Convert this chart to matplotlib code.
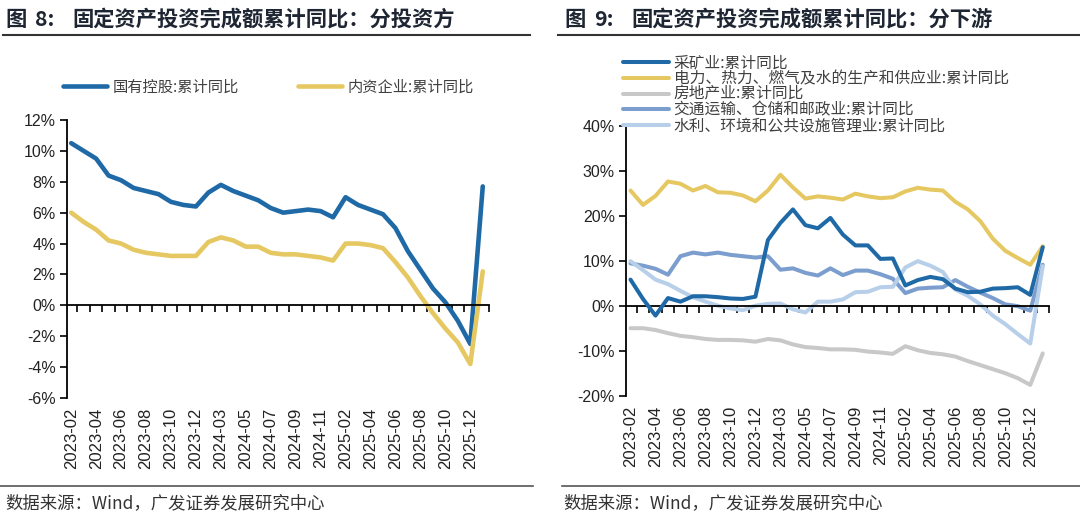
import numpy as np
import matplotlib
matplotlib.use('Agg')
import matplotlib.pyplot as plt
from matplotlib.lines import Line2D

# x categories (no January data)
dates = ['2023-02', '2023-03', '2023-04', '2023-05', '2023-06', '2023-07',
         '2023-08', '2023-09', '2023-10', '2023-11', '2023-12',
         '2024-02', '2024-03', '2024-04', '2024-05', '2024-06', '2024-07',
         '2024-08', '2024-09', '2024-10', '2024-11', '2024-12',
         '2025-02', '2025-03', '2025-04', '2025-05', '2025-06', '2025-07',
         '2025-08', '2025-09', '2025-10', '2025-11', '2025-12', '2026-02']

# 图8: 分投资方
soe = [10.5, 10.0, 9.5, 8.4, 8.1, 7.6, 7.4, 7.2, 6.7, 6.5, 6.4,
       7.3, 7.8, 7.4, 7.1, 6.8, 6.3, 6.0, 6.1, 6.2, 6.1, 5.7,
       7.0, 6.5, 6.2, 5.9, 5.0, 3.5, 2.3, 1.1, 0.2, -1.0, -2.5, 7.7]
domestic = [6.0, 5.4, 4.9, 4.2, 4.0, 3.6, 3.4, 3.3, 3.2, 3.2, 3.2,
            4.1, 4.4, 4.2, 3.8, 3.8, 3.4, 3.3, 3.3, 3.2, 3.1, 2.9,
            4.0, 4.0, 3.9, 3.7, 2.8, 1.8, 0.6, -0.5, -1.5, -2.4, -3.8, 2.2]

# 图9: 分下游
mining = [5.8, 1.5, -2.2, 1.7, 0.9, 2.1, 2.1, 1.9, 1.6, 1.5, 2.0,
          14.6, 18.4, 21.4, 17.9, 17.2, 19.5, 15.8, 13.4, 13.4, 10.4, 10.5,
          4.5, 5.7, 6.4, 5.9, 3.8, 3.0, 3.1, 3.8, 3.9, 4.1, 2.4, 13.0]
power = [25.6, 22.4, 24.4, 27.6, 27.1, 25.6, 26.6, 25.2, 25.1, 24.5, 23.2,
         25.6, 29.1, 26.3, 23.8, 24.3, 24.0, 23.6, 24.9, 24.3, 23.9, 24.1,
         25.4, 26.2, 25.8, 25.6, 23.1, 21.4, 18.8, 14.9, 12.2, 10.6, 9.1, 13.2]
realestate = [-5.0, -5.0, -5.4, -6.1, -6.7, -7.0, -7.4, -7.6, -7.6, -7.7, -8.0,
              -7.4, -7.7, -8.6, -9.2, -9.4, -9.7, -9.7, -9.8, -10.2, -10.4, -10.7,
              -9.0, -9.9, -10.5, -10.8, -11.3, -12.3, -13.2, -14.1, -15.0, -16.1, -17.6, -10.6]
transport = [9.4, 8.9, 8.2, 6.9, 11.0, 11.8, 11.4, 11.8, 11.3, 11.0, 10.7,
             11.0, 8.0, 8.3, 7.3, 6.7, 8.3, 6.8, 7.8, 7.8, 7.0, 6.0,
             2.8, 3.8, 4.0, 4.1, 5.7, 4.2, 2.9, 1.7, 0.3, -0.1, -1.1, 9.1]
water = [9.9, 7.9, 5.8, 4.8, 3.3, 1.9, 0.9, 0.0, -0.6, -1.0, 0.0,
         0.4, 0.5, -0.8, -1.5, 0.9, 0.9, 1.4, 3.0, 3.1, 4.1, 4.2,
         8.5, 9.9, 8.9, 7.5, 3.6, 2.2, 0.3, -2.2, -4.1, -6.3, -8.4, 8.8]

left_names = ['国有控股:累计同比', '内资企业:累计同比']
right_names = ['采矿业:累计同比', '电力、热力、燃气及水的生产和供应业:累计同比',
               '房地产业:累计同比', '交通运输、仓储和邮政业:累计同比',
               '水利、环境和公共设施管理业:累计同比']

c_blue = '#1F6AA6'
c_yel = '#E6C862'
c_gray = '#C8C8C8'
c_mid = '#7B9ECE'
c_light = '#B8CFEA'

plt.rcParams['font.family'] = ['Liberation Sans', 'Noto Sans CJK SC']
plt.rcParams['axes.unicode_minus'] = False
cjk = ['Noto Sans CJK SC', 'DejaVu Sans']

W, H = 1080, 519
fig = plt.figure(figsize=(W / 100, H / 100), dpi=100)
x = np.arange(len(dates))


def px(l, t, r, b):
    return [l / W, 1 - b / H, (r - l) / W, (b - t) / H]


def setup(ax, ylo, yhi, step):
    ax.set_xlim(-0.36, len(dates) - 0.5)
    ax.set_ylim(ylo, yhi)
    yt = np.arange(ylo, yhi + step / 2, step)
    ax.set_yticks(yt)
    ax.set_yticklabels([f'{v:g}%' for v in yt])
    for s in ['top', 'right']:
        ax.spines[s].set_visible(False)
    ax.spines['bottom'].set_position(('data', 0))
    ax.spines['left'].set_linewidth(1.3)
    ax.spines['bottom'].set_linewidth(1.3)
    ax.set_xticks(x + 0.5)
    ax.tick_params(axis='x', length=5, width=1.2, labelbottom=False)
    ax.tick_params(axis='y', length=5, width=1.2, labelsize=11.5, pad=3,
                   labelcolor='#222222')
    sec = ax.secondary_xaxis('bottom')
    sec.set_xticks(x[::2], dates[::2])
    sec.tick_params(length=0, pad=7, labelsize=12, labelrotation=90,
                    labelcolor='#222222')
    sec.spines['bottom'].set_visible(False)


def title(x0, num, rest):
    y = 1 - 19 / H
    kw = dict(family=cjk, fontsize=15.3, fontweight='bold', color='#1f2633',
              va='center', ha='left')
    fig.text(x0 / W, y, '图', **kw)
    fig.text((x0 + 30) / W, y, num + ':', **kw)
    fig.text((x0 + 67) / W, y, rest, **kw)


# left chart
ax1 = fig.add_axes(px(66.7, 120, 489, 398))
setup(ax1, -6, 12, 2)
l1, = ax1.plot(x, soe, color=c_blue, lw=3.3, solid_capstyle='round')
l2, = ax1.plot(x, domestic, color=c_yel, lw=3.3, solid_capstyle='round')
fig.legend([l1, l2], left_names, loc='center left',
           bbox_to_anchor=(63 / W, 1 - 87 / H), ncol=2, frameon=False,
           handlelength=2.9, handletextpad=0.33, columnspacing=3.9,
           borderpad=0, borderaxespad=0, labelcolor='#404040',
           prop={'family': cjk, 'size': 11})

# right chart
ax2 = fig.add_axes(px(626, 125.7, 1049, 395.7))
setup(ax2, -20, 40, 10)
lines = []
for vals, col in [(mining, c_blue), (power, c_yel), (realestate, c_gray),
                  (transport, c_mid), (water, c_light)]:
    ln, = ax2.plot(x, vals, color=col, lw=2.9, solid_capstyle='round')
    lines.append(ln)
# keep mining on top like the original
lines[0].set_zorder(3)
fig.legend(lines, right_names, loc='center left',
           bbox_to_anchor=(623 / W, 1 - 94.5 / H), ncol=1, frameon=False,
           handlelength=2.9, handletextpad=0.33, labelspacing=-0.08,
           borderpad=0, borderaxespad=0, labelcolor='#404040',
           prop={'family': cjk, 'size': 11.3})

# titles, rules and footers
title(5, '8', '固定资产投资完成额累计同比：分投资方')
title(564, '9', '固定资产投资完成额累计同比：分下游')
for x0, x1 in [(3, 530), (558, 1080)]:
    fig.add_artist(Line2D([x0 / W, x1 / W], [1 - 35 / H] * 2, color='#333333', lw=1.5))
for x0, x1 in [(0, 533), (562, 1080)]:
    fig.add_artist(Line2D([x0 / W, x1 / W], [1 - 486 / H] * 2, color='#555555', lw=1.2))
for x0 in [5, 563]:
    fig.text(x0 / W, 1 - 503 / H, '数据来源：Wind，广发证券发展研究中心', family=cjk,
             fontsize=12.5, color='#333333', va='center', ha='left')

fig.savefig('out.png', dpi=100)
